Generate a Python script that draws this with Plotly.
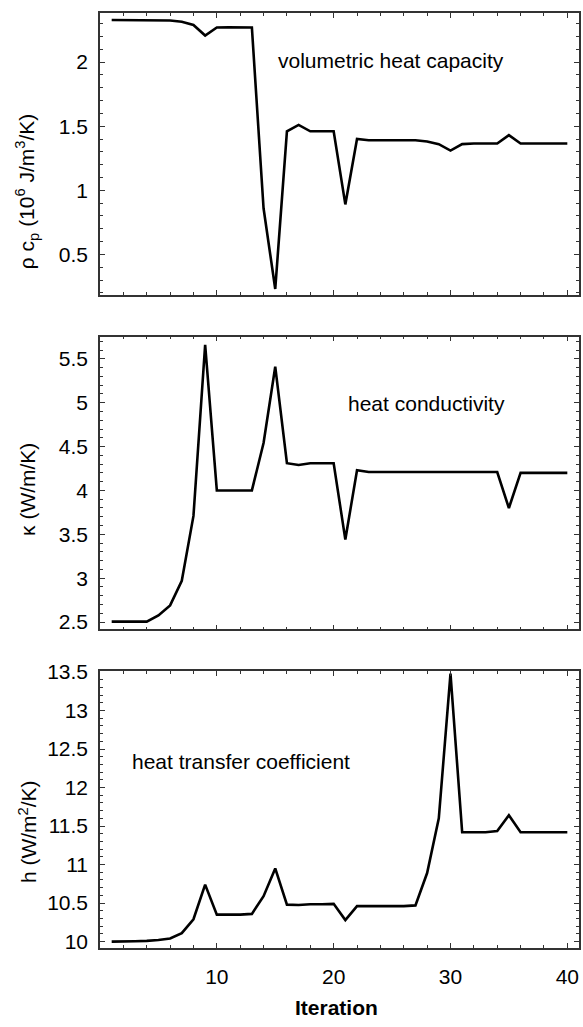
import plotly.graph_objects as go

iteration = list(range(1, 41))
heat_capacity = [2.328, 2.328, 2.328, 2.328, 2.327, 2.324, 2.315, 2.29, 2.207, 2.27,
                 2.272, 2.27, 2.27, 0.86, 0.23, 1.46, 1.51, 1.46, 1.46, 1.46,
                 0.89, 1.40, 1.39, 1.39, 1.39, 1.39, 1.39, 1.38, 1.36, 1.31,
                 1.36, 1.365, 1.365, 1.365, 1.43, 1.365, 1.365, 1.365, 1.365, 1.365]
heat_conductivity = [2.505, 2.505, 2.505, 2.505, 2.575, 2.69, 2.97, 3.71, 5.66, 4.0,
                     4.0, 4.0, 4.0, 4.54, 5.41, 4.31, 4.29, 4.31, 4.31, 4.31,
                     3.44, 4.23, 4.21, 4.21, 4.21, 4.21, 4.21, 4.205, 4.205, 4.205,
                     4.205, 4.21, 4.21, 4.21, 3.80, 4.20, 4.20, 4.20, 4.20, 4.20]
heat_transfer = [10.0, 10.0, 10.005, 10.01, 10.02, 10.04, 10.11, 10.29, 10.74, 10.35,
                 10.35, 10.35, 10.36, 10.59, 10.95, 10.48, 10.475, 10.485, 10.485, 10.49,
                 10.28, 10.46, 10.46, 10.46, 10.46, 10.46, 10.47, 10.89, 11.6, 13.48,
                 11.42, 11.42, 11.42, 11.435, 11.64, 11.42, 11.42, 11.42, 11.42, 11.42]

x_tickvals = [10, 20, 30, 40]
panel_labels = ["volumetric heat capacity", "heat conductivity", "heat transfer coefficient"]
y_titles = ["ρ c<sub>p</sub> (10<sup>6</sup> J/m<sup>3</sup>/K)", "κ (W/m/K)",
            "h (W/m<sup>2</sup>/K)"]
x_title = "Iteration"

FONT = "Liberation Sans, Arial, sans-serif"
FS = 21
AX = "#333333"

fig = go.Figure()
series = [heat_capacity, heat_conductivity, heat_transfer]
for i, s in enumerate(series):
    sfx = "" if i == 0 else str(i + 1)
    fig.add_trace(go.Scatter(x=iteration, y=s, mode="lines",
                             line=dict(color="black", width=2.6),
                             xaxis="x" + sfx, yaxis="y" + sfx, showlegend=False))

def axis_common(**kw):
    d = dict(showline=True, linecolor=AX, linewidth=1.5, mirror="allticks",
             ticks="inside", ticklen=5, tickwidth=1, tickcolor=AX,
             showgrid=False, zeroline=False,
             tickfont=dict(family=FONT, size=FS, color="black"))
    d.update(kw)
    return d

x_common = dict(range=[0, 41], tickmode="array", tickvals=x_tickvals,
                minor=dict(ticks="inside", ticklen=3, tick0=0, dtick=2,
                           tickcolor=AX, showgrid=False))

domains = [[0.6985, 1.0], [0.3408, 0.6539], [0.0, 0.2960]]
yranges = [[0.184, 2.383], [2.417, 5.753], [9.917, 13.51]]

layout = dict(width=583, height=1027, margin=dict(l=100, r=2, t=7, b=79),
              plot_bgcolor="white", paper_bgcolor="white",
              font=dict(family=FONT, size=FS, color="black"))
for i in range(3):
    sfx = "" if i == 0 else str(i + 1)
    layout["xaxis" + sfx] = axis_common(anchor="y" + sfx, showticklabels=(i == 2),
                                        ticklabelstandoff=9, **x_common)
    layout["yaxis" + sfx] = axis_common(anchor="x" + sfx, domain=domains[i],
                                        range=yranges[i], tick0=0, dtick=0.5,
                                        ticklabelstandoff=6,
                                        minor=dict(ticks="inside", ticklen=3, dtick=0.1,
                                                   tickcolor=AX, showgrid=False))
fig.update_layout(**layout)

annotations = [
    dict(text=panel_labels[0], x=15.1, y=2.013, xref="x", yref="y",
         xanchor="left", yanchor="middle", showarrow=False),
    dict(text=panel_labels[1], x=21.05, y=4.99, xref="x2", yref="y2",
         xanchor="left", yanchor="middle", showarrow=False),
    dict(text=panel_labels[2], x=2.6, y=12.34, xref="x3", yref="y3",
         xanchor="left", yanchor="middle", showarrow=False),
    dict(text=y_titles[0], x=(27 - 100) / 481, y=(948 - 186) / 941, xref="paper",
         yref="paper", textangle=-90, xanchor="center", yanchor="middle", showarrow=False),
    dict(text=y_titles[1], x=(27 - 100) / 481, y=(948 - 486.7) / 941, xref="paper",
         yref="paper", textangle=-90, xanchor="center", yanchor="middle", showarrow=False),
    dict(text=y_titles[2], x=(27 - 100) / 481, y=(948 - 831) / 941, xref="paper",
         yref="paper", textangle=-90, xanchor="center", yanchor="middle", showarrow=False),
    dict(text="<b>" + x_title + "</b>", x=20.2, y=(948 - 1008) / 941, xref="x3",
         yref="paper", xanchor="center", yanchor="middle", showarrow=False),
]
for a in annotations:
    a["font"] = dict(family=FONT, size=FS, color="black")
fig.update_layout(annotations=annotations)

fig.write_html("out.html")
